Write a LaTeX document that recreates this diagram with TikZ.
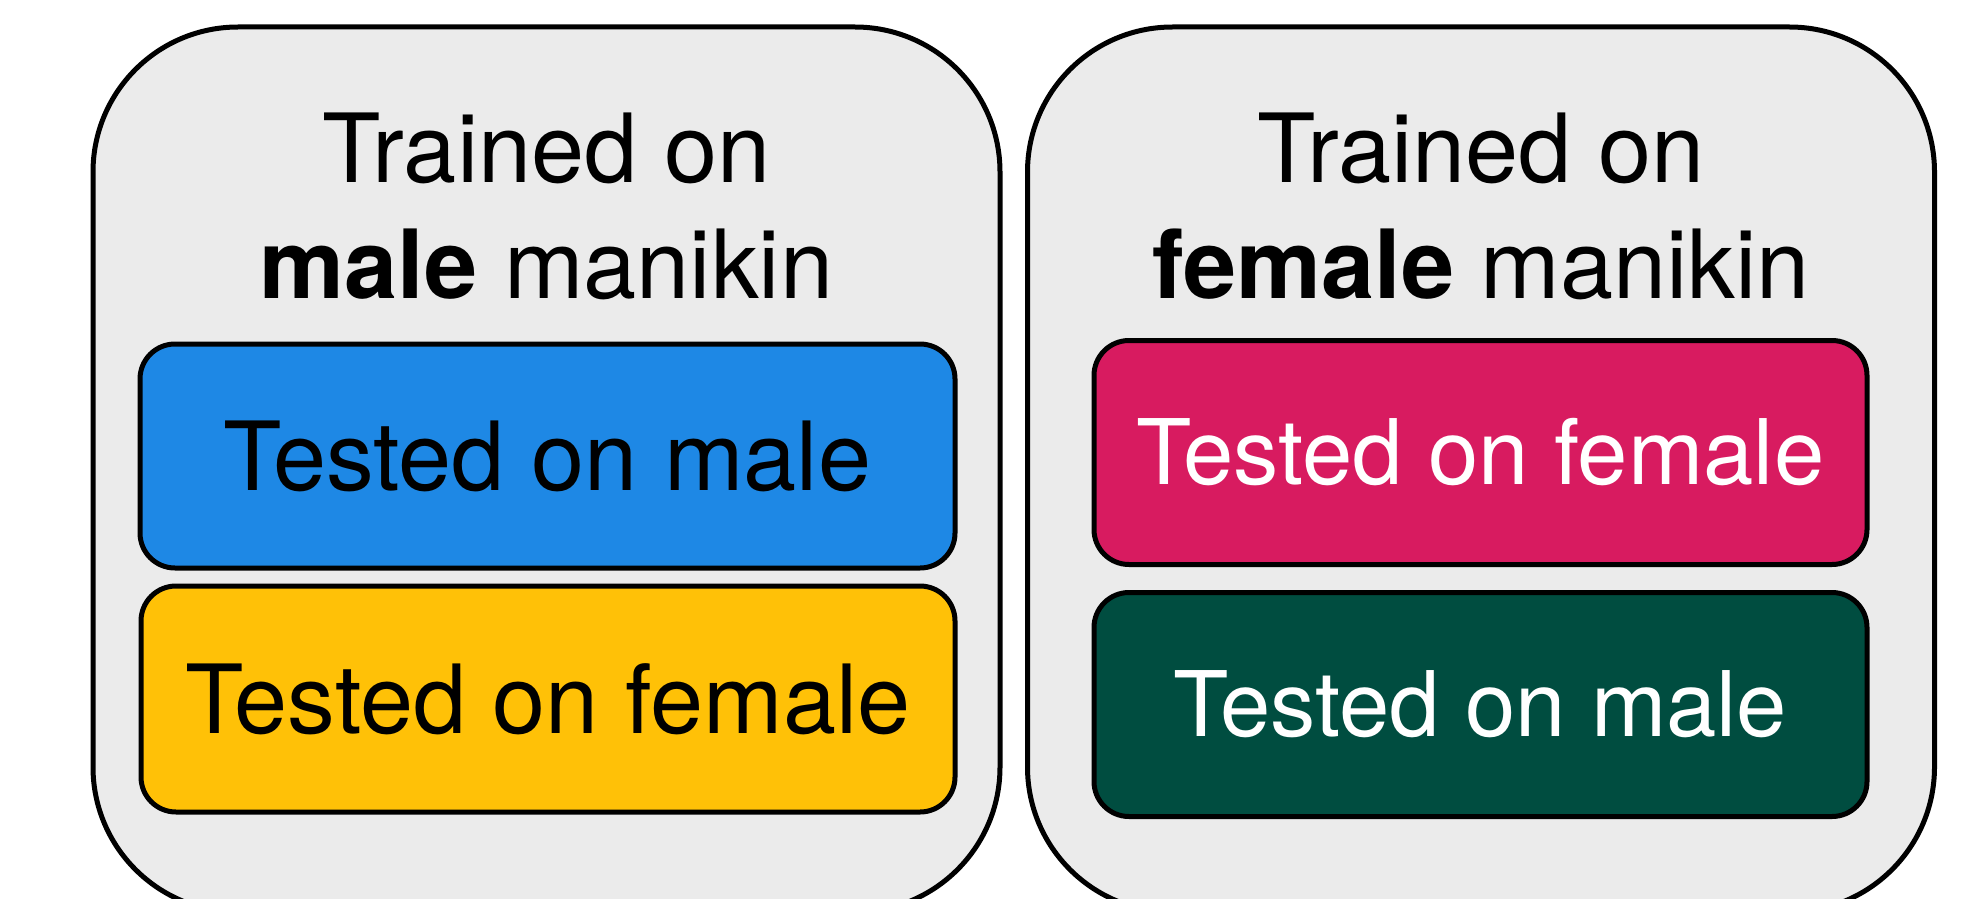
\documentclass[tikz,border=0pt]{standalone}
\usepackage{fontspec}
\setmainfont{TeX Gyre Heros}
\definecolor{panelgray}{HTML}{EBEBEB}
\definecolor{maleblue}{HTML}{1E88E5}
\definecolor{amber}{HTML}{FFC107}
\definecolor{femalepink}{HTML}{D81B60}
\definecolor{deepteal}{HTML}{004D40}
\tikzset{
  panel/.style={draw=black, line width=5pt, fill=panelgray, rounded corners=145pt,
    minimum width=907pt, minimum height=885pt, inner sep=0pt},
  title/.style={anchor=base, inner sep=0pt, font=\fontsize{95.5}{116}\selectfont},
  testbox/.style={draw=black, line width=5pt, rounded corners=35pt,
    minimum height=224pt, inner sep=0pt, align=center},
  bigtext/.style={font=\fontsize{95.5}{116}\selectfont},
  fittext/.style={font=\fontsize{90.5}{110}\selectfont}
}
\begin{document}
\begin{tikzpicture}[x=1pt, y=-1pt]
  \useasboundingbox (0,0) rectangle (1973,899);
  \clip (0,0) rectangle (1973,899);

  % two training panels (their lower edge runs past the page)
  \node[panel] (maleP) at (546.5,469.5) {};
  \node[panel] (femaleP) at (1481,469.5) {};

  % panel headings
  \node[title] (maleT1) at (546.5,182) {Trained on};
  \node[title] (maleT2) at (546.5,298) {\textbf{male} manikin};
  \node[title] (femaleT1) at (1481,182) {Trained on};
  \node[title] (femaleT2) at (1481,298) {\textbf{female} manikin};

  % test results inside each panel
  \node[testbox, fill=maleblue, minimum width=815pt, bigtext, text=black]
    (mm) at (547.5,456) {Tested on male};
  \node[testbox, fill=amber, minimum width=814pt, minimum height=226pt, bigtext, text=black]
    (mf) at (548,699) {Tested on female};
  \node[testbox, fill=femalepink, minimum width=773pt, fittext, text=white]
    (ff) at (1480.5,452.5) {Tested on female};
  \node[testbox, fill=deepteal, minimum width=773pt, fittext, text=white]
    (fm) at (1480.5,704.5) {Tested on male};
\end{tikzpicture}
\end{document}
